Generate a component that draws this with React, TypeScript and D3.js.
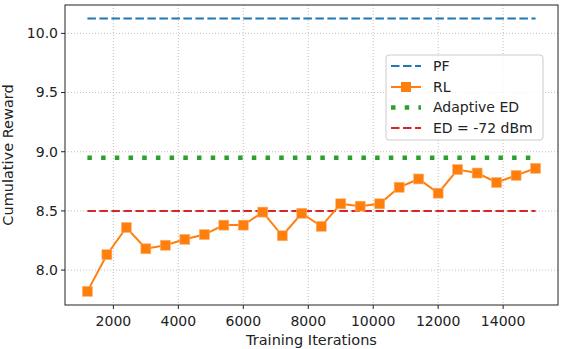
import React from "react";
import * as d3 from "d3";

const iterations = [1200, 1800, 2400, 3000, 3600, 4200, 4800, 5400, 6000, 6600, 7200, 7800, 8400, 9000, 9600, 10200, 10800, 11400, 12000, 12600, 13200, 13800, 14400, 15000];
const rlValues = [7.82, 8.13, 8.36, 8.18, 8.21, 8.26, 8.3, 8.38, 8.38, 8.49, 8.29, 8.48, 8.37, 8.56, 8.54, 8.56, 8.7, 8.77, 8.65, 8.85, 8.82, 8.74, 8.8, 8.86];
const pfValue = 10.125;
const adaptiveValue = 8.95;
const edValue = 8.5;
const xTicks = [2000, 4000, 6000, 8000, 10000, 12000, 14000];
const yTicks = [8.0, 8.5, 9.0, 9.5, 10.0];
const legendLabels = ["PF", "RL", "Adaptive ED", "ED = -72 dBm"];

const W = 562, H = 349;
const L = 65, R = 558, T = 5, B = 305;
const FONT = "DejaVu Sans, sans-serif";
const C = { pf: "#1f77b4", rl: "#ff7f0e", ad: "#2ca02c", ed: "#d62728" };

export default function App() {
  const x = d3.scaleLinear().domain([510, 15690]).range([L, R]);
  const y = d3.scaleLinear().domain([7.705, 10.24]).range([B, T]);
  const line = d3.line<number>().x((_, i) => x(iterations[i])).y(d => y(d));
  const x0 = x(iterations[0]);
  const x1 = x(iterations[iterations.length - 1]);

  const lgX = 386, lgY = 55, lgW = 157, lgH = 85;
  const rowY = [66, 87, 107.5, 128];
  const sx0 = 391, sx1 = 421, tx = 433;

  return (
    <svg width={W} height={H} style={{ position: "absolute", left: 0, top: 0, background: "#fff" }} fontFamily={FONT}>
      {/* grid */}
      {xTicks.map(t => (
        <line key={"gx" + t} x1={x(t)} x2={x(t)} y1={T} y2={B} stroke="#b0b0b0" strokeWidth={0.8} strokeDasharray="1 2" />
      ))}
      {yTicks.map(t => (
        <line key={"gy" + t} x1={L} x2={R} y1={y(t)} y2={y(t)} stroke="#b0b0b0" strokeWidth={0.8} strokeDasharray="1 2" />
      ))}
      {/* series */}
      <line x1={x0} x2={x1} y1={y(pfValue)} y2={y(pfValue)} stroke={C.pf} strokeWidth={2} strokeDasharray="8.5 3.5" />
      <line x1={x0} x2={x1} y1={y(adaptiveValue)} y2={y(adaptiveValue)} stroke={C.ad} strokeWidth={4.5} strokeDasharray="4.5 9.2" />
      <line x1={x0} x2={x1} y1={y(edValue)} y2={y(edValue)} stroke={C.ed} strokeWidth={2} strokeDasharray="8.5 3.5" />
      <path d={line(rlValues) || ""} fill="none" stroke={C.rl} strokeWidth={2} />
      {rlValues.map((v, i) => (
        <rect key={"m" + i} x={x(iterations[i]) - 5} y={y(v) - 5} width={10} height={10} fill={C.rl} stroke="#ffb26e" strokeWidth={0.6} />
      ))}
      {/* frame */}
      <rect x={L} y={T} width={R - L} height={B - T} fill="none" stroke="#222" strokeWidth={1} />
      {/* x ticks */}
      {xTicks.map(t => (
        <g key={"xt" + t}>
          <line x1={x(t)} x2={x(t)} y1={B} y2={B + 4} stroke="#222" strokeWidth={1} />
          <text x={x(t)} y={B + 21} textAnchor="middle" fontSize={14} fill="#222">{t}</text>
        </g>
      ))}
      {yTicks.map(t => (
        <g key={"yt" + t}>
          <line x1={L - 4} x2={L} y1={y(t)} y2={y(t)} stroke="#222" strokeWidth={1} />
          <text x={L - 7} y={y(t)} dy="0.35em" textAnchor="end" fontSize={14} fill="#222">{t.toFixed(1)}</text>
        </g>
      ))}
      <text x={(L + R) / 2} y={345} textAnchor="middle" fontSize={14.5} fill="#222">Training Iterations</text>
      <text transform={`translate(13,${(T + B) / 2}) rotate(-90)`} textAnchor="middle" fontSize={14.5} fill="#222">Cumulative Reward</text>
      {/* legend */}
      <rect x={lgX} y={lgY} width={lgW} height={lgH} rx={3} fill="#fff" fillOpacity={0.8} stroke="#ccc" strokeWidth={1} />
      <line x1={sx0} x2={sx1} y1={rowY[0]} y2={rowY[0]} stroke={C.pf} strokeWidth={2} strokeDasharray="8.5 3.5" />
      <line x1={sx0} x2={sx1} y1={rowY[1]} y2={rowY[1]} stroke={C.rl} strokeWidth={2} />
      <rect x={(sx0 + sx1) / 2 - 5} y={rowY[1] - 5} width={10} height={10} fill={C.rl} />
      <line x1={sx0} x2={sx1} y1={rowY[2]} y2={rowY[2]} stroke={C.ad} strokeWidth={4.5} strokeDasharray="4.5 9.2" />
      <line x1={sx0} x2={sx1} y1={rowY[3]} y2={rowY[3]} stroke={C.ed} strokeWidth={2} strokeDasharray="8.5 3.5" />
      {legendLabels.map((s, i) => (
        <text key={s} x={tx} y={rowY[i]} dy="0.35em" fontSize={14} fill="#222">{s}</text>
      ))}
    </svg>
  );
}
